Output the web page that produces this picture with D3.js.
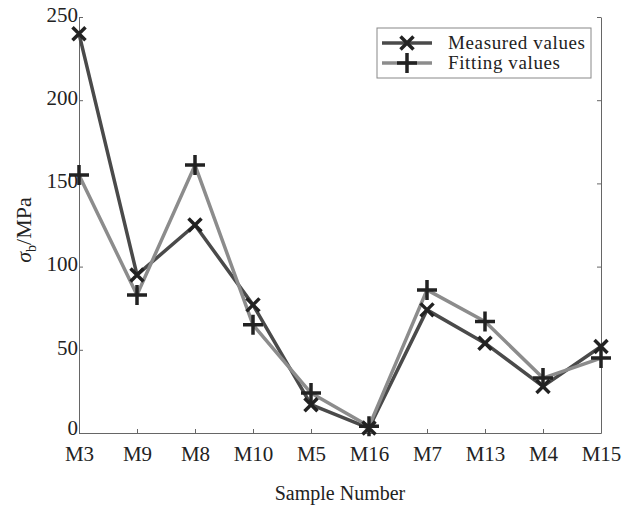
<!DOCTYPE html>
<html>
<head>
<meta charset="utf-8">
<script src="https://cdn.jsdelivr.net/npm/d3@7"></script>
<style>
  body { margin: 0; background: #fff; }
  text { font-family: "Liberation Serif", "Times New Roman", serif; fill: #222; }
</style>
</head>
<body>
<div id="chart"></div>
<script>
// data
var samples = ["M3", "M9", "M8", "M10", "M5", "M16", "M7", "M13", "M4", "M15"];
var measured = [240, 95, 125, 77, 17, 3, 74, 54, 28, 52];
var fitting = [155, 83, 161, 65, 24, 4, 86, 67, 33, 45];
var yTicks = [0, 50, 100, 150, 200, 250];
var seriesNames = ["Measured values", "Fitting values"];

var svgWidth = 640;
var svgHeight = 509;

var margin = { top: 17, right: 39, bottom: 76, left: 79 };
var width = svgWidth - margin.left - margin.right;
var height = svgHeight - margin.top - margin.bottom;

var svg = d3.select("#chart")
  .append("svg")
    .attr("width", svgWidth)
    .attr("height", svgHeight);

var chartGroup = svg.append("g")
  .attr("transform", `translate(${margin.left}, ${margin.top})`);

var xScale = d3.scalePoint().domain(samples).range([0, width]);
var yScale = d3.scaleLinear().domain([0, 250]).range([height, 0]);

// axes (ticks point inwards)
var bottomAxis = d3.axisBottom(xScale).tickSizeInner(-4).tickSizeOuter(0).tickPadding(13);
var leftAxis = d3.axisLeft(yScale).tickValues(yTicks).tickSizeInner(-4).tickSizeOuter(0).tickPadding(4);
var rightAxis = d3.axisRight(yScale).tickValues(yTicks).tickSizeInner(-4).tickSizeOuter(0).tickFormat("");

var xAxis = chartGroup.append("g")
  .attr("transform", `translate(0, ${height})`)
  .call(bottomAxis);
var yAxis = chartGroup.append("g").call(leftAxis);
var yAxisR = chartGroup.append("g")
  .attr("transform", `translate(${width}, 0)`)
  .call(rightAxis);

[xAxis, yAxis, yAxisR].forEach(function(a) {
  a.selectAll("path, line").attr("stroke", "#666").attr("stroke-width", 1);
  a.selectAll("text").style("font-family", "Liberation Serif").attr("fill", "#222");
});
xAxis.selectAll("text").style("font-size", "21px");
yAxis.selectAll("text").style("font-size", "21px").attr("dx", "3px").attr("dy", "0.2em");
yAxis.selectAll("text").filter(d => d === 0).attr("dy", "0.05em");

// lines
var line = d3.line()
  .x((d, i) => xScale(samples[i]))
  .y(d => yScale(d));

chartGroup.append("path")
  .datum(measured)
  .attr("fill", "none")
  .attr("stroke", "#4a4a4a")
  .attr("stroke-width", 3.5)
  .attr("stroke-linejoin", "round")
  .attr("d", line);

chartGroup.append("path")
  .datum(fitting)
  .attr("fill", "none")
  .attr("stroke", "#8c8c8c")
  .attr("stroke-width", 3.5)
  .attr("stroke-linejoin", "round")
  .attr("d", line);

// markers
function crossPath(s) {
  return `M${-s},${-s}L${s},${s}M${-s},${s}L${s},${-s}`;
}
function plusPath(s) {
  return `M${-s},0L${s},0M0,${-s}L0,${s}`;
}

chartGroup.selectAll(".mx")
  .data(measured)
  .enter().append("path")
    .attr("class", "mx")
    .attr("transform", (d, i) => `translate(${xScale(samples[i])}, ${yScale(d)})`)
    .attr("d", crossPath(6.5))
    .attr("stroke", "#222")
    .attr("stroke-width", 3.5)
    .attr("fill", "none");

chartGroup.selectAll(".fp")
  .data(fitting)
  .enter().append("path")
    .attr("class", "fp")
    .attr("transform", (d, i) => `translate(${xScale(samples[i])}, ${yScale(d)})`)
    .attr("d", plusPath(10))
    .attr("stroke", "#222")
    .attr("stroke-width", 3.5)
    .attr("fill", "none");

// legend
var legend = svg.append("g").attr("transform", "translate(377, 28)");
legend.append("rect")
  .attr("width", 214)
  .attr("height", 50)
  .attr("fill", "#fff")
  .attr("stroke", "#888")
  .attr("stroke-width", 1);

var legendColors = ["#4a4a4a", "#8c8c8c"];
var legendMarkers = [crossPath(6.5), plusPath(10)];
var legendLengths = [137, 112];

seriesNames.forEach(function(name, i) {
  var g = legend.append("g").attr("transform", `translate(0, ${15 + i * 20})`);
  g.append("line")
    .attr("x1", 5).attr("x2", 55)
    .attr("stroke", legendColors[i])
    .attr("stroke-width", 3.5);
  g.append("path")
    .attr("transform", "translate(30, 0)")
    .attr("d", legendMarkers[i])
    .attr("stroke", "#222")
    .attr("stroke-width", 3.5);
  g.append("text")
    .attr("x", 71)
    .attr("dy", "0.33em")
    .style("font-size", "19px")
    .attr("textLength", legendLengths[i])
    .text(name);
});

// axis titles
svg.append("text")
  .attr("x", margin.left + width / 2)
  .attr("y", 500)
  .attr("text-anchor", "middle")
  .style("font-size", "20px")
  .text("Sample Number");

var yTitle = svg.append("text")
  .attr("transform", "translate(31, 230) rotate(-90)")
  .attr("text-anchor", "middle")
  .style("font-size", "22px");
yTitle.append("tspan").style("font-style", "italic").text("σ");
yTitle.append("tspan").attr("dy", "5").style("font-size", "14px").text("b");
yTitle.append("tspan").attr("dy", "-5").text("/MPa");
</script>
</body>
</html>
